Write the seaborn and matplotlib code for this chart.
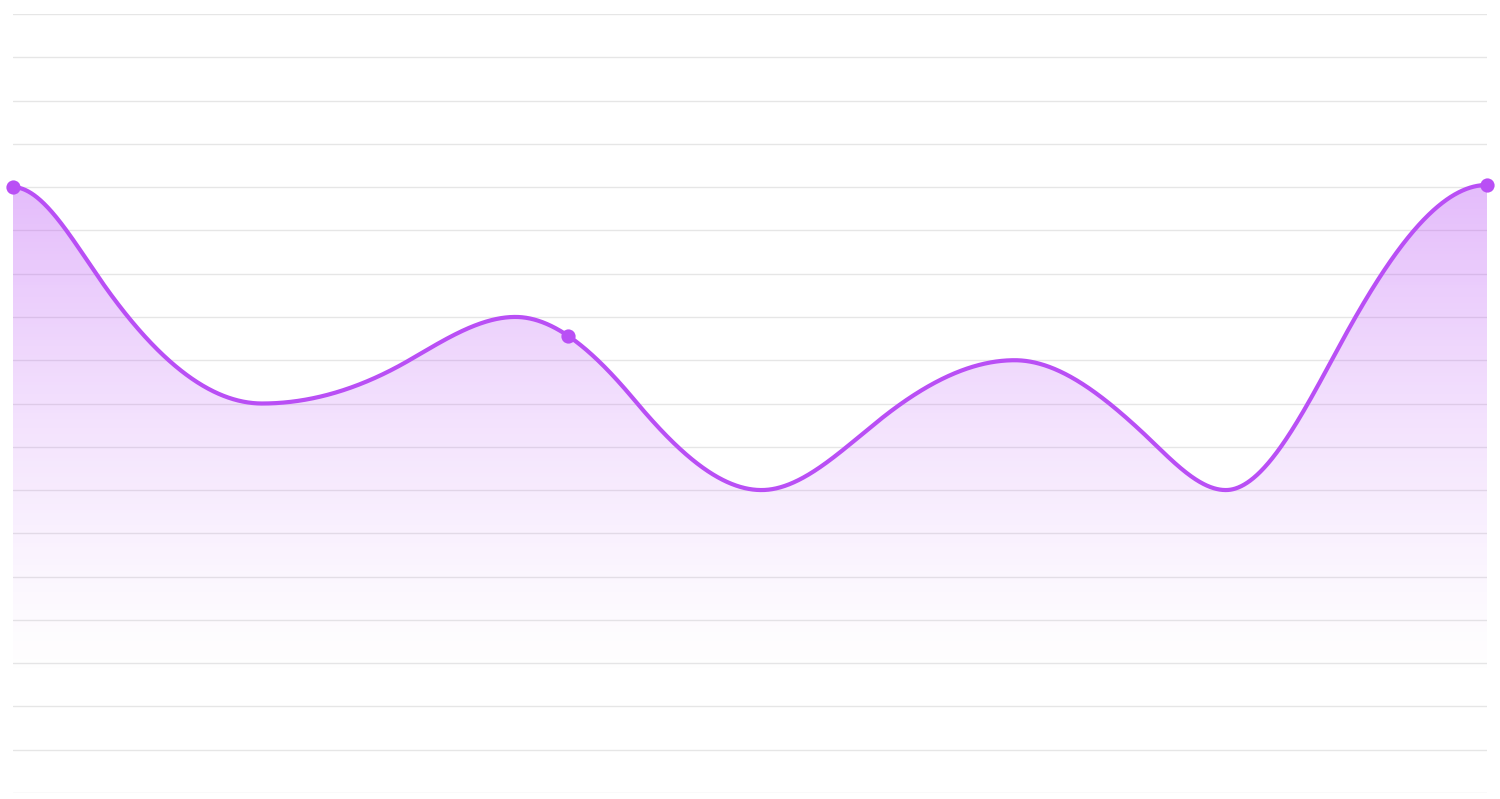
import numpy as np
import pandas as pd
import matplotlib
matplotlib.use("Agg")
import matplotlib.pyplot as plt
import seaborn as sns
from matplotlib.colors import to_rgb

# knots: x position, value (grid units), slope at the knot
x_pos = [0, 86, 249, 396, 502, 621, 748, 866, 1001, 1126, 1212, 1326, 1473]
y_val = [14.0, 11.9, 9.0, 10.0, 11.0, 9.08, 7.0, 8.62, 10.0, 8.39, 7.0, 10.35, 14.05]
slopes = [0, -0.0335, 0, 0.0134, 0, -0.0277, 0, 0.0185, 0, -0.0213, 0, 0.0427, 0]
# positions of the highlighted points
marker_x = [0, 555, 1473]

LINE = "#b94ff5"
GRID = "#e6e6e6"


def hermite_curve(x, y, m, n=3000):
    """Piecewise cubic hermite through the knots with the given slopes"""
    x = np.asarray(x, float)
    y = np.asarray(y, float)
    m = np.asarray(m, float)
    xs = np.linspace(x[0], x[-1], n)
    i = np.clip(np.searchsorted(x, xs, side="right") - 1, 0, len(x) - 2)
    h = x[i + 1] - x[i]
    t = (xs - x[i]) / h
    h00 = 2 * t**3 - 3 * t**2 + 1
    h10 = t**3 - 2 * t**2 + t
    h01 = -2 * t**3 + 3 * t**2
    h11 = t**3 - t**2
    ys = h00 * y[i] + h10 * h * m[i] + h01 * y[i + 1] + h11 * h * m[i + 1]
    return xs, ys


sns.set_theme(style="white")
fig = plt.figure(figsize=(15, 7.99), dpi=100)
ax = fig.add_axes([13 / 1500, 6 / 799, 1474 / 1500, 779 / 799])

xs, ys = hermite_curve(x_pos, y_val, slopes)
curve = pd.DataFrame({"x": xs, "y": ys})

ax.set_xlim(x_pos[0], x_pos[-1])
ax.set_ylim(0, 18)

# grid lines (under the translucent fill)
for g in range(0, 19):
    ax.axhline(g, color=GRID, lw=1, zorder=0.5)

# gradient fill under the curve
rgb = to_rgb(LINE)
grad = np.zeros((256, 1, 4))
grad[:, 0, :3] = rgb
top, fade = 14.0, 2.5
levels = np.linspace(0, 18, 256)
grad[:, 0, 3] = np.clip((levels - fade) / (top - fade), 0, 1) ** 1.3 * 0.38
img = ax.imshow(grad, aspect="auto", origin="lower",
                extent=[x_pos[0], x_pos[-1], 0, 18], zorder=1)
poly = ax.fill_between(xs, ys, 0, color="none", lw=0)
img.set_clip_path(poly.get_paths()[0], transform=ax.transData)

sns.lineplot(data=curve, x="x", y="y", color=LINE, lw=3, ax=ax, zorder=3)
pts = pd.DataFrame({"x": marker_x, "y": np.interp(marker_x, xs, ys)})
ax.scatter(pts["x"], pts["y"], s=105, color=LINE, zorder=4, clip_on=False, lw=0)

ax.set_xlabel("")
ax.set_ylabel("")
ax.set_xticks([])
ax.set_yticks([])
for sp in ax.spines.values():
    sp.set_visible(False)

fig.savefig("out.png", dpi=100)
